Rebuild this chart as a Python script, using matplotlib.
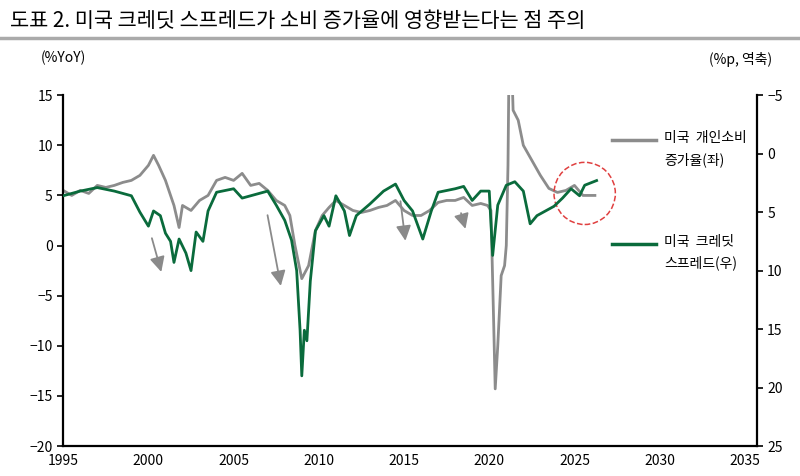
import matplotlib.pyplot as plt
from matplotlib.patches import Ellipse
import numpy as np

plt.rcParams['font.family'] = ['Noto Sans CJK KR', 'DejaVu Sans']
plt.rcParams['axes.unicode_minus'] = True

GREY = '#8c8c8c'
GREEN = '#0a6b3c'

# 미국 개인소비 증가율 (%YoY, 좌축)
cons_year = [1995, 1995.5, 1996, 1996.5, 1997, 1997.5, 1998, 1998.5, 1999, 1999.5, 2000, 2000.3, 2000.6,
             2001, 2001.5, 2001.8, 2002, 2002.5, 2003, 2003.5, 2004, 2004.5, 2005, 2005.5, 2006, 2006.5,
             2007, 2007.5, 2008, 2008.3, 2008.6, 2009, 2009.4, 2009.8, 2010.2, 2010.6, 2011, 2011.5,
             2012, 2012.5, 2013, 2013.5, 2014, 2014.5, 2015, 2015.5, 2016, 2016.5, 2017, 2017.5, 2018,
             2018.5, 2019, 2019.5, 2019.9, 2020.1, 2020.25, 2020.35, 2020.5, 2020.7, 2020.9, 2021.0,
             2021.1, 2021.2, 2021.4, 2021.7, 2022, 2022.5, 2023, 2023.5, 2024, 2024.5, 2025, 2025.5, 2026.2]
cons_val = [5.5, 5.0, 5.5, 5.2, 6.0, 5.8, 6.0, 6.3, 6.5, 7.0, 8.0, 9.0, 8.0,
            6.5, 4.0, 1.8, 4.0, 3.5, 4.5, 5.0, 6.5, 6.8, 6.5, 7.2, 6.0, 6.2,
            5.5, 4.5, 4.0, 3.0, 0.0, -3.3, -2.0, 1.5, 3.0, 3.8, 4.5, 4.0,
            3.5, 3.3, 3.5, 3.8, 4.0, 4.5, 3.5, 3.0, 3.0, 3.5, 4.3, 4.5, 4.5,
            4.8, 4.0, 4.2, 4.0, 3.5, -7.0, -14.3, -10.0, -3.0, -2.0, 0.0,
            8.0, 25.0, 13.5, 12.5, 10.0, 8.5, 7.0, 5.7, 5.3, 5.5, 6.0, 5.0, 5.0]

# 미국 크레딧 스프레드 (%p, 우축 역축)
spr_year = [1995, 1996, 1997, 1998, 1998.5, 1999, 1999.5, 2000, 2000.3, 2000.7, 2001, 2001.3, 2001.5,
            2001.8, 2002.2, 2002.5, 2002.8, 2003.2, 2003.5, 2004, 2005, 2005.5, 2006, 2007, 2007.5,
            2008, 2008.4, 2008.7, 2008.9, 2009.0, 2009.15, 2009.3, 2009.5, 2009.8, 2010.3, 2010.6,
            2011, 2011.5, 2011.8, 2012.2, 2013, 2013.8, 2014.5, 2015, 2015.5, 2016.1, 2016.6, 2017,
            2018, 2018.5, 2019, 2019.5, 2020.0, 2020.2, 2020.5, 2021, 2021.5, 2022, 2022.4, 2022.8,
            2023.3, 2023.8, 2024.3, 2024.8, 2025.3, 2025.6, 2026.3]
spr_val = [3.6, 3.2, 2.9, 3.2, 3.4, 3.6, 5.0, 6.2, 4.9, 5.3, 6.8, 7.5, 9.3,
           7.3, 8.5, 10.0, 6.7, 7.5, 4.9, 3.3, 3.0, 3.8, 3.6, 3.2, 4.4,
           5.7, 7.4, 10.0, 15.1, 19.0, 15.1, 16.0, 10.9, 6.6, 5.3, 6.2,
           3.6, 4.9, 7.0, 5.3, 4.3, 3.2, 2.6, 4.0, 4.9, 7.3, 4.9, 3.3,
           3.0, 2.8, 4.0, 3.2, 3.2, 8.7, 4.4, 2.7, 2.4, 3.2, 6.0, 5.3,
           4.9, 4.5, 3.8, 3.0, 3.6, 2.7, 2.3]

# 화살표 (시작, 끝) in 좌축 좌표
arrows = [((2000.16, 1.0), (2000.8, -2.9)), ((2006.96, 3.3), (2007.8, -4.3)),
          ((2014.77, 4.7), (2015.1, 0.2)), ((2018.3, 3.5), (2018.65, 1.4))]

fig = plt.figure(figsize=(8, 4.76), dpi=100)
ax = fig.add_axes([0.079, 0.063, 0.867, 0.737])
ax2 = ax.twinx()

ax.plot(cons_year, cons_val, color=GREY, lw=2.0)
ax2.plot(spr_year, spr_val, color=GREEN, lw=2.0)

ax.set_xlim(1995, 2035.7)
ax.set_ylim(-20, 15)
ax2.set_ylim(25, -5)
ax.set_xticks(range(1995, 2036, 5))
ax.set_yticks(range(-20, 16, 5))
ax2.set_yticks(range(-5, 26, 5))

for a in (ax, ax2):
    a.spines['top'].set_visible(False)
    for s in a.spines.values():
        s.set_color('black')
        s.set_linewidth(1.6)
    a.tick_params(labelsize=10, length=4, width=1.2)
ax.tick_params(axis='x', length=0, pad=6)
ax.spines['right'].set_visible(False)
ax2.spines['left'].set_visible(False)
ax2.spines['bottom'].set_visible(False)

# arrows and circle in left-axis coordinates, drawn on top
for (x0, y0), (x1, y1) in arrows:
    ax2.annotate('', xy=(x1, y1), xytext=(x0, y0), xycoords=ax.transData, textcoords=ax.transData,
                 arrowprops=dict(arrowstyle='-|>,head_width=0.45,head_length=0.9',
                                 color='#8a8a8a', lw=1.3))

ax2.add_patch(Ellipse((2025.6, 5.2), 3.6, 6.2, transform=ax.transData,
                      fill=False, ls='--', ec='#e04040', lw=1.1))

# legend drawn manually
fig.add_artist(plt.Line2D([0.765, 0.82], [0.706, 0.706], color=GREY, lw=2.5))
fig.text(0.83, 0.725, '미국  개인소비\n증가율(좌)', fontsize=10, va='top', linespacing=1.6)
fig.add_artist(plt.Line2D([0.765, 0.82], [0.488, 0.488], color=GREEN, lw=2.5))
fig.text(0.83, 0.507, '미국  크레딧\n스프레드(우)', fontsize=10, va='top', linespacing=1.6)

fig.text(0.079, 0.87, '(%YoY)', fontsize=10, ha='center')
fig.text(0.965, 0.865, '(%p, 역축)', fontsize=10, ha='right')
fig.text(0.012, 0.955, '도표 2. 미국 크레딧 스프레드가 소비 증가율에 영향받는다는 점 주의',
         fontsize=15, fontweight='medium', va='center')
fig.add_artist(plt.Line2D([0.0, 1.0], [0.92, 0.92], color='#aaaaaa', lw=2.5))

fig.savefig('out.png', dpi=100)
